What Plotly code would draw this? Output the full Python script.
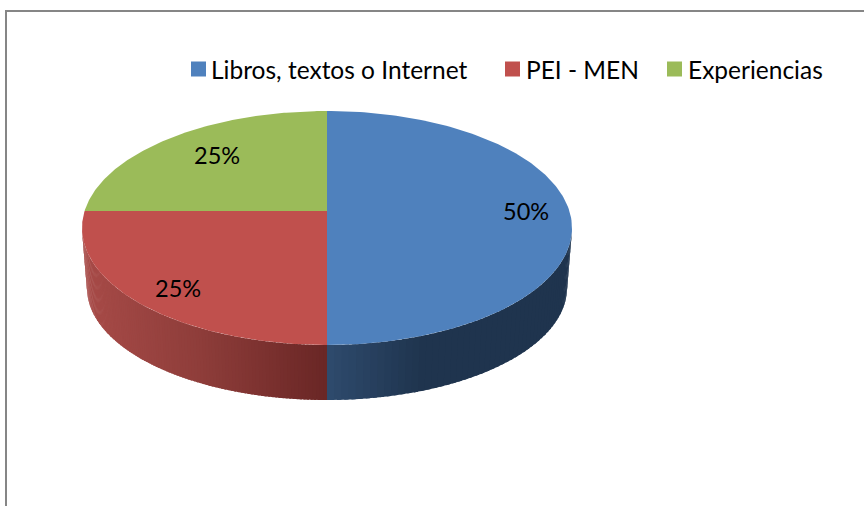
"""3D-look pie chart: share of sources (Libros / PEI-MEN / Experiencias)."""
import math
import plotly.graph_objects as go

# Data
categories = ["Libros, textos o Internet", "PEI - MEN", "Experiencias"]
values = [50, 25, 25]

# Styles
top_colors = ["#4F81BD", "#C0504D", "#9BBB59"]
side_stops = {
    0: [(327, "#2E4A6C"), (420, "#1F344E"), (572, "#1F344E")],
    1: [(82, "#A84B48"), (200, "#8E3D3A"), (327, "#692625")],
}
label_fx = [0.82, 0.785, 0.715]
label_fy = [1.0, 0.845, 0.76]
legend_marker_x = [198.5, 512.5, 674.5]
legend_text_x = [209, 524, 686]
LEGEND_Y = 69
FONT = "Lato"
FONT_SIZE = 24.5
LABEL_SIZE = 23.5

# Pie geometry in picture pixels
CX, CY, RX, RY = 327, 228, 245, 117      # top ellipse
APEX_Y = 211                             # where the slices meet
BY, BRX, BRY = 288, 240, 112             # bottom rim ellipse


def rim_point(theta):
    """Where the ray from the apex at pie angle theta hits the top ellipse."""
    dx, dy = math.sin(theta) * RX, -math.cos(theta) * RY
    oy = APEX_Y - CY
    a = (dx / RX) ** 2 + (dy / RY) ** 2
    b = 2 * oy * dy / RY ** 2
    c = (oy / RY) ** 2 - 1
    s = (-b + math.sqrt(b * b - 4 * a * c)) / (2 * a)
    return CX + dx * s, APEX_Y + dy * s


def mix(stops, x):
    for (x0, c0), (x1, c1) in zip(stops, stops[1:]):
        if x <= x1:
            f = max(0, (x - x0) / (x1 - x0))
            rgb = [
                round(int(c0[i:i + 2], 16) * (1 - f) + int(c1[i:i + 2], 16) * f)
                for i in (1, 3, 5)
            ]
            return "rgb(%d,%d,%d)" % tuple(rgb)
    return stops[-1][1]


fig = go.Figure()

total = sum(values)
start = 0
angles = []
for v in values:
    end = start + v / total * 2 * math.pi
    angles.append((start, end))
    start = end

# Side wall, one thin strip at a time so the shading runs left to right
for i, (a0, a1) in enumerate(angles):
    if i not in side_stops:
        continue
    steps = 120
    for k in range(steps):
        p0 = rim_point(a0 + (a1 - a0) * k / steps)
        p1 = rim_point(a0 + (a1 - a0) * (k + 1.6) / steps)
        if p0[1] < CY and p1[1] < CY:
            continue
        t0 = math.atan2((p0[1] - CY) / RY, (p0[0] - CX) / RX)
        t1 = math.atan2((p1[1] - CY) / RY, (p1[0] - CX) / RX)
        t0, t1 = max(t0, 0) if p0[0] > CX else t0, t1
        xs = [CX + RX * math.cos(t0), CX + RX * math.cos(t1),
              CX + BRX * math.cos(t1), CX + BRX * math.cos(t0)]
        ys = [CY + RY * math.sin(t0), CY + RY * math.sin(t1),
              BY + BRY * math.sin(t1), BY + BRY * math.sin(t0)]
        fig.add_trace(go.Scatter(
            x=xs, y=ys, mode="lines", fill="toself",
            fillcolor=mix(side_stops[i], sum(xs) / 4),
            line=dict(width=0), hoverinfo="skip", showlegend=False,
        ))

# Top face
for i, (a0, a1) in enumerate(angles):
    n = 160
    rim = [rim_point(a0 + (a1 - a0) * k / n) for k in range(n + 1)]
    fig.add_trace(go.Scatter(
        x=[CX] + [p[0] for p in rim] + [CX],
        y=[APEX_Y] + [p[1] for p in rim] + [APEX_Y],
        mode="lines", fill="toself", fillcolor=top_colors[i],
        line=dict(width=0), name=categories[i], showlegend=False,
        hoverinfo="name",
    ))

# Legend squares
fig.add_trace(go.Scatter(
    x=legend_marker_x, y=[LEGEND_Y] * 3, mode="markers",
    marker=dict(symbol="square", size=15, color=top_colors),
    hoverinfo="skip", showlegend=False,
))

for i, name in enumerate(categories):
    fig.add_annotation(
        x=legend_text_x[i], y=LEGEND_Y, text=name, showarrow=False,
        xanchor="left", yanchor="middle",
        font=dict(family=FONT, size=FONT_SIZE, color="black"),
    )

# Percent labels
for i, (a0, a1) in enumerate(angles):
    px, py = rim_point((a0 + a1) / 2)
    fig.add_annotation(
        x=CX + (px - CX) * label_fx[i], y=APEX_Y + (py - APEX_Y) * label_fy[i],
        text="%d%%" % round(values[i] / total * 100), showarrow=False,
        font=dict(family=FONT, size=LABEL_SIZE, color="black"),
    )

# Chart frame (runs off the right and bottom of the picture)
frame = dict(color="#868686", width=2)
fig.add_shape(type="line", x0=5, x1=864, y0=11, y1=11, line=frame)
fig.add_shape(type="line", x0=6, x1=6, y0=10, y1=506, line=frame)

fig.update_layout(
    width=864, height=506,
    margin=dict(l=0, r=0, t=0, b=0),
    paper_bgcolor="white", plot_bgcolor="white",
    xaxis=dict(range=[0, 864], visible=False),
    yaxis=dict(range=[506, 0], visible=False),
    showlegend=False,
)

fig.write_html(
    "out.html",
    config=dict(displayModeBar=False),
    post_script="document.body.style.margin='0';",
)
